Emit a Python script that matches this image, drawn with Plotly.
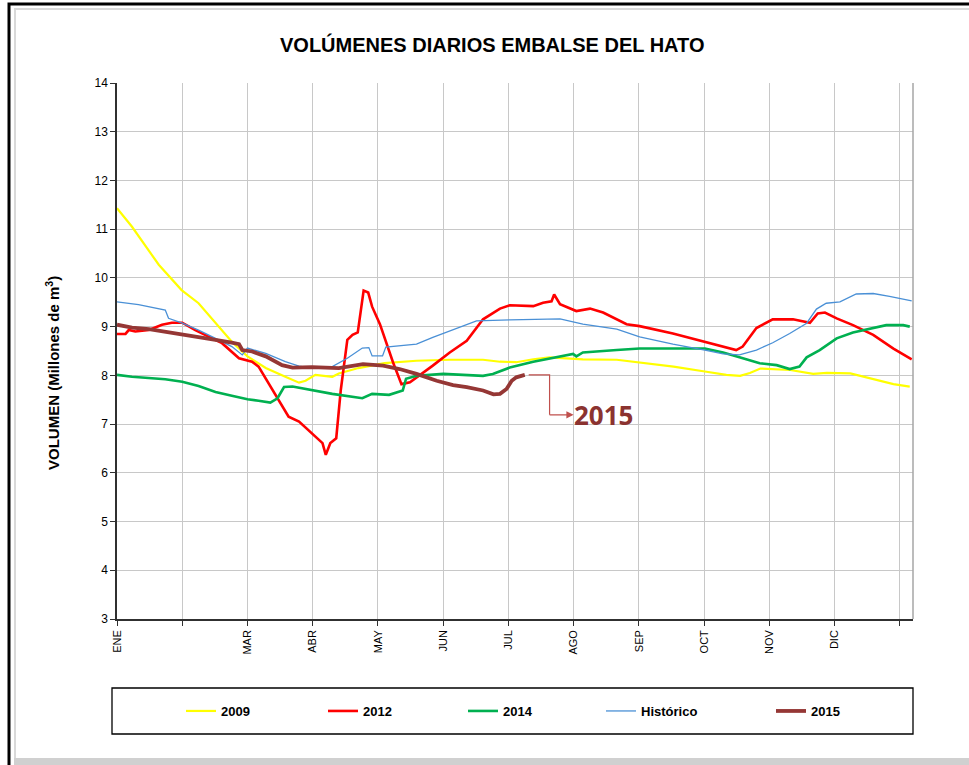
import plotly.graph_objects as go

# ---------------- data (x = month position, 0 = ENE) ----------------
month_ticks = [0, 2, 3, 4, 5, 6, 7, 8, 9, 10, 11]
month_labels = ["ENE", "MAR", "ABR", "MAY", "JUN", "JUL", "AGO", "SEP", "OCT", "NOV", "DIC"]
unlabeled_ticks = [1, 12]

x_2009 = [0, 0.23, 0.64, 0.99, 1.25, 1.76, 2.0, 2.28, 2.58, 2.79, 2.89, 3.04, 3.30, 3.40, 3.70, 4.10,
          4.59, 5.10, 5.61, 5.87, 6.12, 6.38, 6.63, 7.14, 7.66, 8.01, 8.53, 9.01, 9.34, 9.55, 9.70,
          9.86, 10.32, 10.67, 10.88, 11.24, 11.60, 11.90, 12.15]
y_2009 = [11.43, 11.05, 10.27, 9.75, 9.48, 8.69, 8.39, 8.15, 7.97, 7.85, 7.89, 8.01, 7.97, 8.04, 8.15,
          8.25, 8.30, 8.32, 8.32, 8.28, 8.27, 8.33, 8.37, 8.33, 8.32, 8.26, 8.18, 8.08, 8.01, 7.99,
          8.05, 8.14, 8.11, 8.03, 8.05, 8.04, 7.92, 7.82, 7.77]

x_2012 = [0, 0.13, 0.18, 0.28, 0.49, 0.69, 0.84, 1.0, 1.20, 1.41, 1.61, 1.87, 2.07, 2.17, 2.38, 2.63,
          2.79, 2.99, 3.15, 3.20, 3.27, 3.36, 3.43, 3.53, 3.61, 3.69, 3.78, 3.85, 3.91, 4.03, 4.23,
          4.36, 4.49, 4.84, 5.10, 5.36, 5.48, 5.61, 5.87, 6.02, 6.38, 6.53, 6.66, 6.70, 6.79, 7.04,
          7.25, 7.45, 7.81, 8.01, 8.52, 9.01, 9.29, 9.49, 9.59, 9.80, 10.05, 10.36, 10.62, 10.74,
          10.85, 11.03, 11.28, 11.59, 11.90, 12.18]
y_2012 = [8.85, 8.85, 8.93, 8.90, 8.93, 9.04, 9.08, 9.08, 8.93, 8.80, 8.66, 8.35, 8.28, 8.18, 7.70,
          7.15, 7.05, 6.81, 6.61, 6.37, 6.61, 6.71, 7.70, 8.73, 8.83, 8.88, 9.74, 9.70, 9.41, 9.05,
          8.27, 7.82, 7.86, 8.20, 8.47, 8.71, 8.91, 9.15, 9.37, 9.44, 9.42, 9.49, 9.52, 9.66, 9.46,
          9.32, 9.37, 9.29, 9.05, 9.01, 8.86, 8.69, 8.58, 8.52, 8.59, 8.97, 9.15, 9.15, 9.08, 9.27,
          9.29, 9.17, 9.03, 8.83, 8.55, 8.33]

x_2014 = [0, 0.23, 0.74, 1.0, 1.25, 1.51, 1.76, 2.0, 2.17, 2.35, 2.46, 2.56, 2.69, 2.99, 3.30, 3.76,
          3.91, 4.17, 4.38, 4.43, 4.59, 5.0, 5.61, 5.76, 6.02, 6.38, 6.74, 6.99, 7.04, 7.14, 7.66,
          8.01, 9.01, 9.29, 9.54, 9.85, 10.11, 10.31, 10.46, 10.57, 10.77, 11.03, 11.28, 11.59,
          11.79, 12.05, 12.15]
y_2014 = [8.01, 7.97, 7.92, 7.87, 7.78, 7.66, 7.58, 7.51, 7.48, 7.44, 7.53, 7.76, 7.77, 7.70, 7.62,
          7.53, 7.62, 7.60, 7.69, 7.93, 7.99, 8.03, 7.99, 8.03, 8.16, 8.28, 8.37, 8.44, 8.39, 8.47,
          8.52, 8.55, 8.55, 8.47, 8.37, 8.25, 8.21, 8.13, 8.18, 8.37, 8.52, 8.76, 8.88, 8.97, 9.03,
          9.03, 9.00]

x_hist = [0, 0.33, 0.74, 0.79, 1.0, 1.25, 1.51, 1.76, 1.92, 2.0, 2.28, 2.58, 2.79, 2.99, 3.30, 3.40,
          3.53, 3.76, 3.86, 3.91, 4.07, 4.12, 4.59, 4.84, 5.05, 5.30, 5.51, 6.02, 6.63, 6.79, 7.14,
          7.66, 8.01, 8.52, 9.01, 9.29, 9.54, 9.80, 10.05, 10.31, 10.57, 10.72, 10.87, 11.08, 11.33,
          11.59, 11.84, 12.18]
y_hist = [9.51, 9.45, 9.34, 9.17, 9.07, 8.93, 8.76, 8.59, 8.42, 8.56, 8.45, 8.28, 8.19, 8.15, 8.18,
          8.25, 8.35, 8.56, 8.57, 8.40, 8.40, 8.58, 8.64, 8.78, 8.89, 9.01, 9.12, 9.14, 9.16, 9.16,
          9.05, 8.95, 8.79, 8.64, 8.52, 8.44, 8.42, 8.52, 8.67, 8.86, 9.07, 9.36, 9.48, 9.51, 9.67,
          9.68, 9.62, 9.53]

x_2015 = [0, 0.23, 0.49, 0.74, 1.0, 1.25, 1.51, 1.76, 1.87, 1.92, 2.07, 2.28, 2.53, 2.69, 2.99, 3.40,
          3.77, 4.08, 4.33, 4.59, 4.90, 5.15, 5.36, 5.61, 5.77, 5.87, 5.97, 6.05, 6.12, 6.25]
y_2015 = [9.04, 8.98, 8.95, 8.90, 8.84, 8.78, 8.73, 8.67, 8.64, 8.52, 8.49, 8.39, 8.21, 8.16, 8.17,
          8.15, 8.23, 8.20, 8.13, 8.03, 7.89, 7.80, 7.76, 7.69, 7.61, 7.62, 7.72, 7.89, 7.96, 8.01]

series = [
    ("2009", x_2009, y_2009, "#FFFF00", 2.2),
    ("2012", x_2012, y_2012, "#FF0000", 2.6),
    ("2014", x_2014, y_2014, "#00B050", 2.6),
    ("Histórico", x_hist, y_hist, "#4A90D6", 1.3),
    ("2015", x_2015, y_2015, "#953735", 3.8),
]

# ---------------- layout geometry (pixels) ----------------
W, H = 969, 765
L, R, T, B = 117, 56, 83, 146
PW, PH = W - L - R, H - T - B


def px_x(p):
    return (p - L) / PW


def px_y(p):
    return (H - B - p) / PH


FONT = "Liberation Sans, Arial, sans-serif"

fig = go.Figure()
legend_line_starts = [186, 328, 468, 606, 776]
for i, (name, xs, ys, col, w) in enumerate(series):
    lg = "legend" if i == 0 else f"legend{i + 1}"
    fig.add_trace(go.Scatter(x=xs, y=ys, mode="lines", name=name,
                             line=dict(color=col, width=w), legend=lg,
                             hoverinfo="skip"))

legend_defs = {}
for i, start in enumerate(legend_line_starts):
    key = "legend" if i == 0 else f"legend{i + 1}"
    legend_defs[key] = dict(
        x=px_x(start - 5), y=px_y(711), xanchor="left", yanchor="middle",
        bgcolor="rgba(0,0,0,0)", borderwidth=0,
        font=dict(family=FONT, size=13, color="#000000", weight="bold"),
        itemwidth=30, tracegroupgap=0,
    )

shapes = [
    # outer black frame
    dict(type="rect", xref="paper", yref="paper", x0=px_x(9), x1=px_x(1000), y0=px_y(4), y1=px_y(800),
         line=dict(color="#000000", width=3), layer="below"),
    # inner grey frame
    dict(type="rect", xref="paper", yref="paper", x0=px_x(15), x1=px_x(1000), y0=px_y(9), y1=px_y(759),
         line=dict(color="#D9D9D9", width=2), layer="below"),
    # bottom grey band
    dict(type="rect", xref="paper", yref="paper", x0=px_x(14), x1=px_x(1000), y0=px_y(758), y1=px_y(770),
         line=dict(width=0), fillcolor="#D0D0D0", layer="below"),
    # plot right edge
    dict(type="line", xref="paper", yref="paper", x0=1, x1=1, y0=0, y1=1,
         line=dict(color="#A6A6A6", width=1.5)),
    # legend box
    dict(type="rect", xref="paper", yref="paper", x0=px_x(112), x1=px_x(913), y0=px_y(688), y1=px_y(734),
         line=dict(color="#000000", width=1.3)),
]

# connector from end of 2015 series to label
lx, ly = x_2015[-1], y_2015[-1]
elbow_x = lx + 0.38
tip_y = ly - 0.82
shapes.append(dict(type="path", xref="x", yref="y",
                   path=f"M{lx + 0.06},{ly} L{elbow_x},{ly} L{elbow_x},{tip_y}",
                   line=dict(color="#C0504D", width=1.2)))

annotations = [
    dict(text="VOLÚMENES DIARIOS EMBALSE DEL HATO", xref="paper", yref="paper",
         x=px_x(492), y=px_y(44), xanchor="center", yanchor="middle", showarrow=False,
         font=dict(family=FONT, size=20, color="#000000", weight="bold")),
    dict(text="VOLUMEN (Millones de m<sup>3</sup>)", xref="paper", yref="paper",
         x=px_x(52), y=px_y(373), xanchor="center", yanchor="middle", showarrow=False,
         textangle=-90, font=dict(family=FONT, size=15, color="#000000", weight="bold")),
    dict(text="2015", x=elbow_x, y=tip_y, xref="x", yref="y", ax=54, ay=0,
         showarrow=True, arrowside="start", arrowhead=2, startarrowhead=2,
         arrowsize=1.2, startarrowsize=1.2, arrowwidth=1.2, arrowcolor="#C0504D",
         standoff=0, startstandoff=0, borderpad=0,
         font=dict(family="Open Sans, Liberation Sans, sans-serif", size=26,
                   color="#8B3330", weight="bold")),
]

fig.update_layout(
    width=W, height=H,
    margin=dict(l=L, r=R, t=T, b=B, pad=0),
    paper_bgcolor="#FFFFFF", plot_bgcolor="#FFFFFF",
    showlegend=True,
    shapes=shapes, annotations=annotations,
    **legend_defs,
)

fig.update_xaxes(range=[0, 12.2], tickmode="array", tickvals=month_ticks, ticktext=month_labels,
                 tickangle=-90, showgrid=True, gridcolor="#C8C8C8", gridwidth=1,
                 showline=True, linecolor="#303030", linewidth=1.5, ticks="outside", ticklen=5,
                 tickcolor="#303030", zeroline=False,
                 minor=dict(tickvals=unlabeled_ticks, showgrid=True, gridcolor="#C8C8C8",
                            gridwidth=1, ticks="outside", ticklen=5, tickcolor="#303030"),
                 tickfont=dict(family=FONT, size=11, color="#000000"))
fig.update_yaxes(range=[3, 14], tickmode="array", tickvals=list(range(3, 15)),
                 showgrid=True, gridcolor="#C8C8C8", gridwidth=1,
                 showline=True, linecolor="#303030", linewidth=1.5, ticks="outside", ticklen=5,
                 tickcolor="#303030", zeroline=False,
                 tickfont=dict(family=FONT, size=12, color="#000000"))

fig.write_html("out.html", config={"displayModeBar": False},
               post_script="document.body.style.margin='0';")
